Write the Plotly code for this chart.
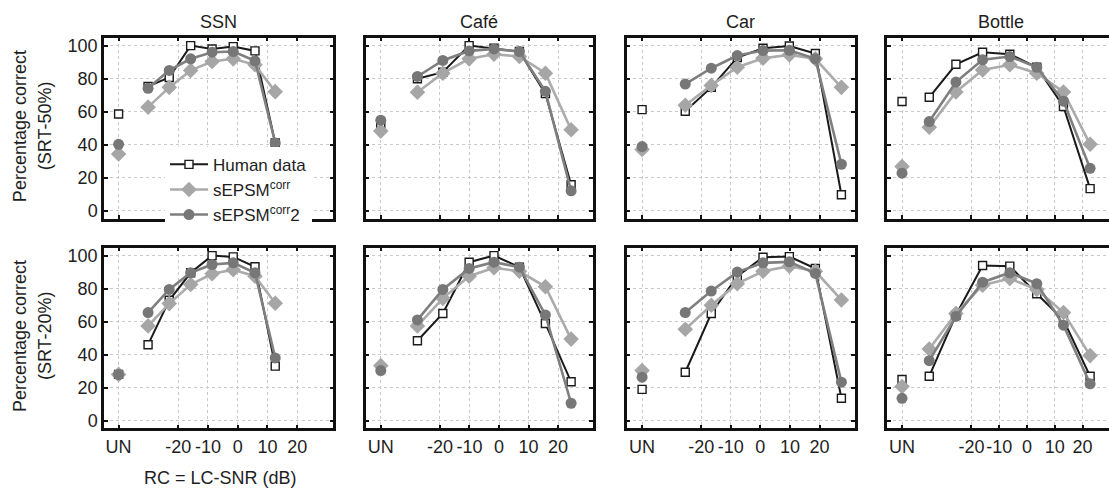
import plotly.graph_objects as go

# ---------------- data ----------------
noises = ["SSN", "Café", "Car", "Bottle"]
un_pos = [-40, -40, -40, -45]
snr_x = {
    "SSN":    [-30.1, -23.0, -15.8, -8.6, -1.5, 5.8, 12.6],
    "Café":   [-27.6, -19.0, -10.1, -1.7, 6.9, 15.7, 24.4],
    "Car":    [-25.4, -16.6, -7.8, 0.9, 9.8, 18.6, 27.4],
    "Bottle": [-35.2, -25.6, -16.0, -6.2, 3.5, 13.1, 22.7],
}
tick_vals = [-20, -10, 0, 10, 20]
tick_text = ["-20", "-10", "0", "10", "20"]

# SRT-50% row: [UN value, 7 SNR values]
human_50 = {
    "SSN":    [58.6, 75.3, 80.7, 100, 98, 99.4, 96.8, 41],
    "Café":   [52.2, 79.9, 83.9, 100, 98.4, 96.4, 70.9, 15.7],
    "Car":    [61.2, 60.2, 74.7, 92.8, 98.4, 99.8, 95.2, 9.6],
    "Bottle": [66.1, 68.7, 88.7, 96, 94.8, 86.9, 63.1, 13.3],
}
corr_50 = {
    "SSN":    [34.3, 62.7, 74.7, 85, 90.4, 92, 88.4, 72.1],
    "Café":   [48.2, 71.7, 83.3, 92, 94.8, 93.4, 83.3, 49],
    "Car":    [37.1, 63.9, 75.9, 86.9, 92.4, 94.4, 92, 74.7],
    "Bottle": [26.7, 50.6, 71.9, 85.3, 88.4, 83.3, 71.9, 40.2],
}
corr2_50 = {
    "SSN":    [40.2, 74.1, 85, 92, 96, 96.4, 90.8, 41],
    "Café":   [54.8, 81.3, 91, 96.8, 98, 96.4, 72.3, 12],
    "Car":    [38.8, 76.7, 86.3, 94, 97, 97.2, 92, 28.1],
    "Bottle": [22.7, 54, 77.9, 91.4, 93.4, 86.9, 66.3, 25.6],
}
# SRT-20% row
human_20 = {
    "SSN":    [28, 46, 72.9, 89.6, 100, 99.2, 93.2, 33],
    "Café":   [31.5, 48.4, 64.9, 96, 100, 93, 58.8, 23.5],
    "Car":    [18.9, 29.3, 64.9, 87.5, 99, 99.4, 92.2, 13.5],
    "Bottle": [24.9, 26.9, 64, 94, 93.6, 76.9, 61, 26.9],
}
corr_20 = {
    "SSN":    [28, 57.4, 70.9, 82.5, 89, 91.4, 87.5, 71.1],
    "Café":   [33.3, 57.4, 74.1, 87.5, 92.6, 90.5, 81.1, 49.4],
    "Car":    [30.3, 55.4, 69.9, 83, 90.5, 93.6, 90.5, 73.1],
    "Bottle": [20.7, 43.4, 64.9, 82.1, 86.1, 79.5, 65.5, 39.4],
}
corr2_20 = {
    "SSN":    [27.9, 65.5, 79.5, 89.6, 94.6, 95.6, 89.6, 38],
    "Café":   [30.3, 61, 79.5, 92.2, 96, 93, 64, 10.5],
    "Car":    [26.3, 65.5, 78.5, 90, 95.6, 96.2, 89.2, 23.3],
    "Bottle": [13.5, 36.3, 63.1, 83.9, 89.6, 83, 57.8, 22.3],
}
row_labels = ["(SRT-50%)", "(SRT-20%)"]
y_ticks = [0, 20, 40, 60, 80, 100]

# ---------------- layout geometry (pixels) ----------------
W, H = 1109, 491
col_px = [(104, 333.3), (365.7, 592.7), (626.7, 855), (887.3, 1109)]
x_ranges = [[-44.9, 32.1], [-45.1, 31.7], [-45.2, 32.0], [-50.3, 29.5]]
row_px = [(36, 218.3), (247.7, 430)]
y_range = [-4.8, 104.8]

FONT = "Arial, Liberation Sans, sans-serif"
TXT = "#1e1e1e"
FS = 18

styles = [
    dict(name="Human data",
         line=dict(color="#1a1a1a", width=2),
         marker=dict(symbol="square", size=8, color="white",
                     line=dict(color="#1a1a1a", width=1.4))),
    dict(name="sEPSM<sup>corr</sup>",
         line=dict(color="#ababab", width=2.6),
         marker=dict(symbol="diamond", size=12, color="#a6a6a6",
                     line=dict(width=0))),
    dict(name="sEPSM<sup>corr</sup>2",
         line=dict(color="#7f7f7f", width=2.6),
         marker=dict(symbol="circle", size=11, color="#777777",
                     line=dict(width=0))),
]

fig = go.Figure()
layout = {}
annotations = []
k = 0
for r, datasets in enumerate([(human_50, corr_50, corr2_50),
                              (human_20, corr_20, corr2_20)]):
    for c, noise in enumerate(noises):
        k += 1
        xa = "x" if k == 1 else f"x{k}"
        ya = "y" if k == 1 else f"y{k}"
        xs = [un_pos[c], None] + snr_x[noise]
        for s, (ds, st) in enumerate(zip(datasets, styles)):
            vals = ds[noise]
            ys = [vals[0], None] + vals[1:]
            fig.add_trace(go.Scatter(
                x=xs, y=ys, mode="lines+markers", connectgaps=False,
                name=st["name"], line=st["line"], marker=st["marker"],
                xaxis=xa, yaxis=ya, showlegend=(k == 1),
                legendrank=s + 1, cliponaxis=False))
        x0, x1 = col_px[c]
        yt, yb = row_px[r]
        last = (c == 3)
        layout["xaxis" if k == 1 else f"xaxis{k}"] = dict(
            domain=[x0 / W, min(x1 / W, 1.0)], anchor=ya, range=x_ranges[c],
            tickmode="array", tickvals=[un_pos[c]] + tick_vals,
            ticktext=["UN"] + tick_text, tickangle=0,
            showgrid=True, gridcolor="#c9c9c9", griddash="dot", gridwidth=1,
            zeroline=False, showline=True, linecolor="#111111", linewidth=2.5,
            mirror="ticks", ticks="inside", ticklen=4, tickwidth=1.5,
            tickcolor="#111111",
            tickfont=dict(family=FONT, size=FS, color=TXT),
            showticklabels=(r == 1))
        layout["yaxis" if k == 1 else f"yaxis{k}"] = dict(
            domain=[1 - yb / H, 1 - yt / H], anchor=xa, range=y_range,
            tickmode="array", tickvals=y_ticks,
            showgrid=True, gridcolor="#c9c9c9", griddash="dot", gridwidth=1,
            zeroline=False, showline=True, linecolor="#111111", linewidth=2.5,
            mirror=(False if last else "ticks"), ticks="inside", ticklen=4,
            tickwidth=1.5, tickcolor="#111111",
            tickfont=dict(family=FONT, size=FS, color=TXT),
            showticklabels=(c == 0))
        if r == 0:
            annotations.append(dict(
                text=noise, x=((x0 + x1) / 2 if not last else (x0 + 1115) / 2) / W,
                y=1 - 20 / H, xref="paper", yref="paper", showarrow=False,
                font=dict(family=FONT, size=FS, color=TXT),
                xanchor="center", yanchor="middle"))

# y-axis titles
for r in range(2):
    yc = 1 - ((row_px[r][0] + row_px[r][1]) / 2 - 2) / H
    annotations.append(dict(text="Percentage correct", x=20 / W, y=yc,
                            xref="paper", yref="paper", showarrow=False,
                            textangle=-90, xanchor="center", yanchor="middle",
                            font=dict(family=FONT, size=FS, color=TXT)))
    annotations.append(dict(text=row_labels[r], x=45 / W, y=yc,
                            xref="paper", yref="paper", showarrow=False,
                            textangle=-90, xanchor="center", yanchor="middle",
                            font=dict(family=FONT, size=FS, color=TXT)))
# x-axis title
annotations.append(dict(text="RC = LC-SNR (dB)", x=220 / W, y=1 - 480 / H,
                        xref="paper", yref="paper", showarrow=False,
                        xanchor="center", yanchor="middle",
                        font=dict(family=FONT, size=FS, color=TXT)))

fig.update_layout(
    width=W, height=H, margin=dict(l=0, r=0, t=0, b=0),
    paper_bgcolor="white", plot_bgcolor="white",
    annotations=annotations,
    legend=dict(x=165 / W, y=1 - 146 / H, xanchor="left", yanchor="top",
                bgcolor="white", borderwidth=0, itemwidth=38,
                font=dict(family=FONT, size=17, color=TXT),
                tracegroupgap=0),
    **layout)

fig.write_html("out.html")
